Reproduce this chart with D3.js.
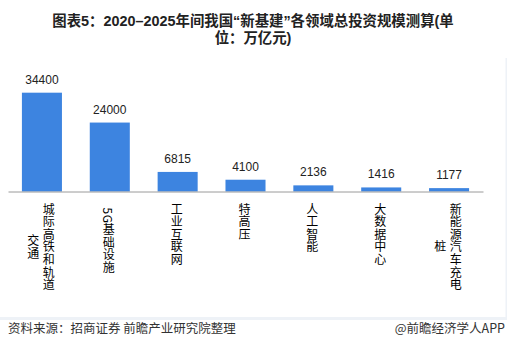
<!DOCTYPE html>
<html>
<head>
<meta charset="utf-8">
<script src="https://cdn.jsdelivr.net/npm/d3@7/dist/d3.min.js"></script>
<style>
  html, body { margin: 0; padding: 0; background: #fff; }
  svg { display: block; }
</style>
</head>
<body>
<svg id="chart" width="507" height="358"></svg>
<script>
// ---- data ----
const categories = ["城际高铁和轨道交通", "5G基础设施", "工业互联网", "特高压", "人工智能", "大数据中心", "新能源汽车充电桩"];
const values = [34400, 24000, 6815, 4100, 2136, 1416, 1177];
const titleLines = ["图表5：2020–2025年间我国“新基建”各领域总投资规模测算(单", "位：万亿元)"];
const sourceText = "资料来源：招商证券 前瞻产业研究院整理";
const brandText = "@前瞻经济学人APP";

const W = 507, H = 358;
const svg = d3.select("#chart");
const cjk = "'Liberation Sans', Arial, 'Noto Sans CJK SC', sans-serif";

// panel edges
svg.append("rect").attr("x", 0).attr("y", 317).attr("width", W).attr("height", 3).attr("fill", "#eef2f7");
svg.append("rect").attr("x", 505.5).attr("y", 58).attr("width", 1.5).attr("height", 262).attr("fill", "#eef2f7");

// title
svg.append("g").selectAll("text").data(titleLines).join("text")
  .attr("x", 253).attr("y", (d, i) => 26 + i * 17)
  .attr("text-anchor", "middle")
  .attr("font-family", cjk).attr("font-weight", "bold").attr("font-size", 14.4)
  .attr("fill", "#222")
  .text(d => d);

// scales
const x = d3.scaleBand().domain(categories).range([8, 483]).paddingInner(0.41).paddingOuter(0.205);
const y = d3.scaleLinear().domain([0, 40000]).range([191.5, 76.6]);

// bars
svg.append("g").selectAll("rect").data(values).join("rect")
  .attr("x", (d, i) => x(categories[i]))
  .attr("y", d => y(d))
  .attr("width", x.bandwidth())
  .attr("height", d => y(0) - y(d))
  .attr("fill", "#3d84e0");

// value labels
svg.append("g").selectAll("text").data(values).join("text")
  .attr("x", (d, i) => x(categories[i]) + x.bandwidth() / 2)
  .attr("y", d => y(d) - 9)
  .attr("text-anchor", "middle")
  .attr("font-family", "'Liberation Sans', Arial, sans-serif")
  .attr("font-size", 12)
  .attr("fill", "#222")
  .text(d => d);

// axis line
const axis = d3.axisBottom(x).tickSize(0).tickFormat("");
const ag = svg.append("g").attr("transform", `translate(0,${y(0)})`).call(axis);
ag.select(".domain").attr("stroke", "#9a9a9a").attr("stroke-width", 1);

// vertical stacked category labels (columns run right to left)
const perCol = 7, pitch = 12.6, colGap = 15.5, labelTop = 203;
categories.forEach((c, i) => {
  const cols = [];
  for (let k = 0; k < c.length; k += perCol) cols.push(c.slice(k, k + perCol));
  const blockLen = d3.max(cols, s => s.length) * pitch;
  const cx = x(c) + x.bandwidth() / 2 - 1;
  const n = cols.length;
  cols.forEach((s, j) => {
    const colX = cx + ((n - 1) / 2 - j) * colGap;
    svg.append("text")
      .attr("x", colX).attr("y", labelTop + blockLen / 2)
      .attr("text-anchor", "middle")
      .style("writing-mode", "vertical-rl")
      .attr("font-family", "'Noto Sans CJK SC', sans-serif")
      .attr("font-size", 12)
      .attr("letter-spacing", 0.6)
      .attr("fill", "#000")
      .text(s);
  });
});

// footer
svg.append("text").attr("x", 8).attr("y", 333)
  .attr("font-family", "'Noto Sans CJK SC', sans-serif").attr("font-size", 12.5)
  .attr("fill", "#333").text(sourceText);
svg.append("text").attr("x", 505).attr("y", 333).attr("text-anchor", "end")
  .attr("font-family", "'Noto Sans CJK SC', sans-serif").attr("font-size", 12.5)
  .attr("fill", "#333").text(brandText);
</script>
</body>
</html>
